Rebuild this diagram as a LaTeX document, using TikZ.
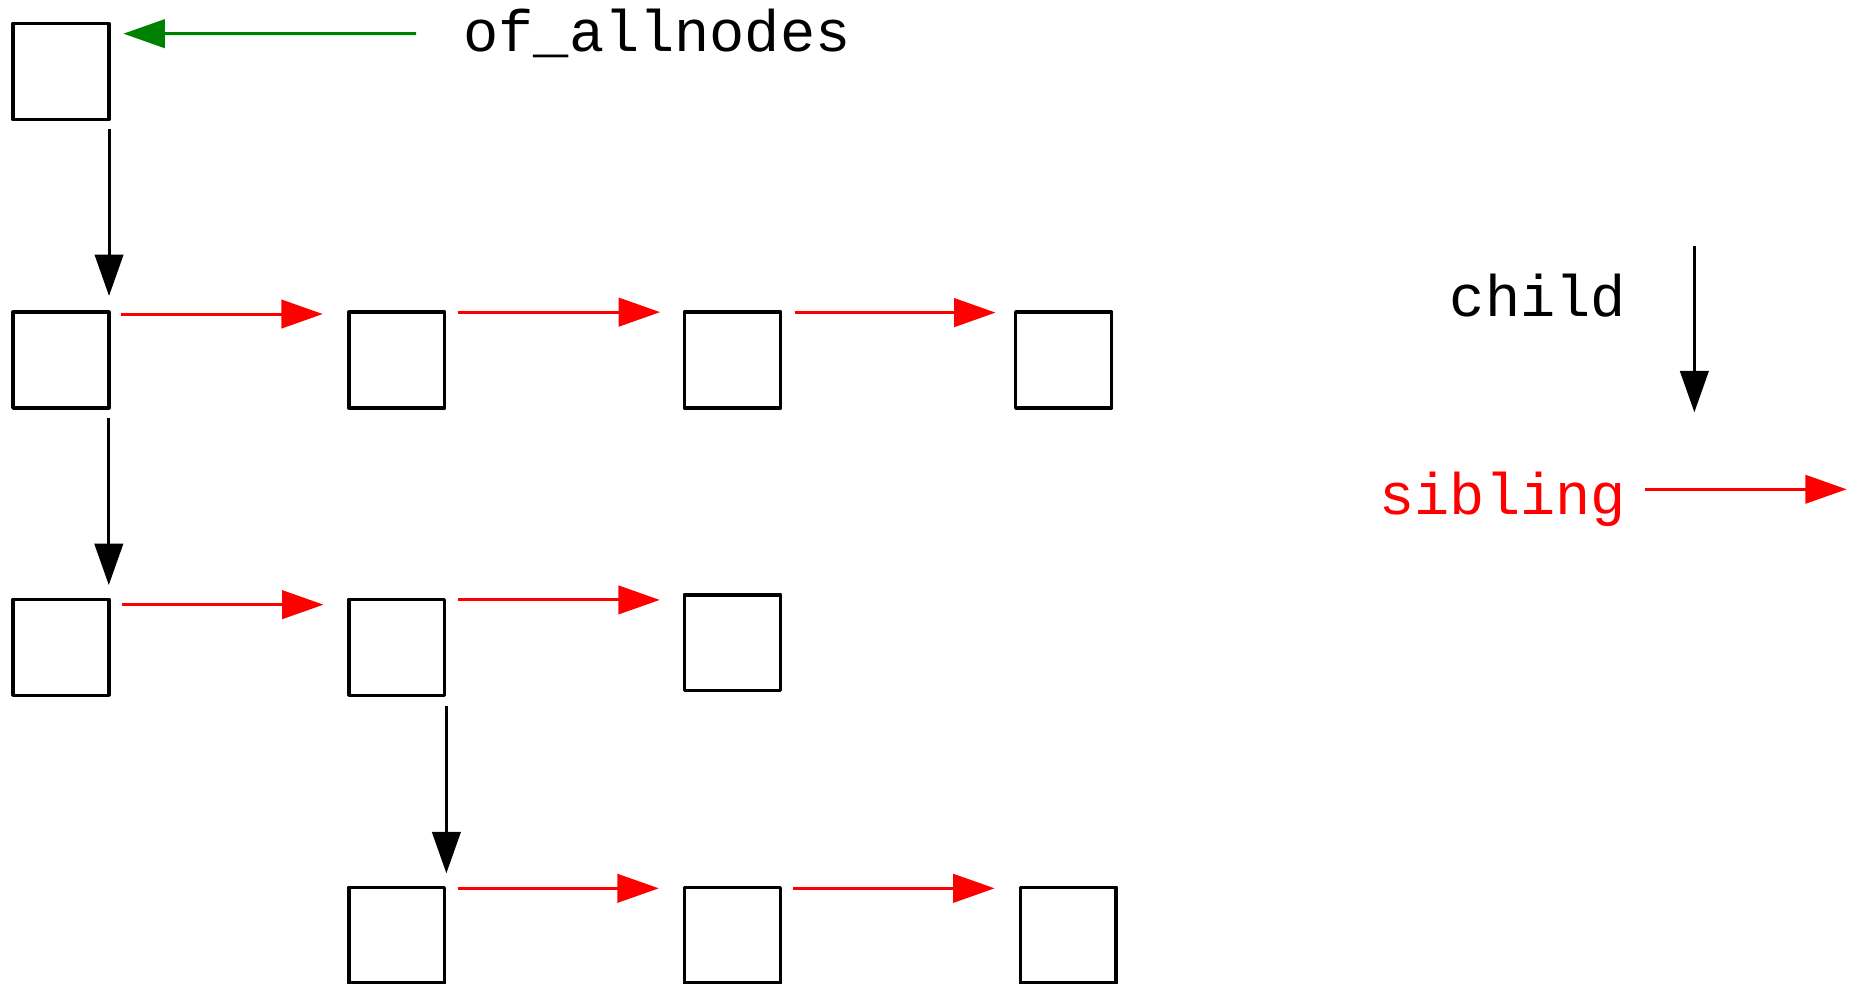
\documentclass[tikz,border=0pt]{standalone}
\usepackage{fontspec}
\setmonofont{Liberation Mono}
\usetikzlibrary{arrows.meta,calc}
\definecolor{linkgreen}{RGB}{0,128,0}
\begin{document}
\begin{tikzpicture}[x=0.01cm,y=-0.01cm,
  box/.style={draw,line width=0.85pt,line join=round,minimum width=0.81cm,
    minimum height=0.81cm,inner sep=0pt,outer sep=0pt},
  tip/.style={-{Triangle[length=3.5mm,width=2.4mm]}},
  childarrow/.style={draw=black,line width=0.72pt,tip},
  sibarrow/.style={draw=red,line width=0.72pt,tip},
  rootarrow/.style={draw=linkgreen,line width=0.72pt,tip},
  lbl/.style={font=\fontsize{14.1pt}{17pt}\selectfont\ttfamily,inner sep=0pt,outer sep=0pt}
]
\useasboundingbox (0,0) rectangle (1568,832);

% tree nodes
\node[box] (a11) at (51.5,60.5) {};
\node[box] (a21) at (51.5,304.5) {};
\node[box] (a22) at (335.5,304.5) {};
\node[box] (a23) at (619.5,304.5) {};
\node[box] (a24) at (899.5,304.5) {};
\node[box] (a31) at (51.5,547.5) {};
\node[box] (a32) at (335.5,547.5) {};
\node[box] (a33) at (619.5,543.5) {};
\node[box] (a42) at (335.5,791) {};
\node[box] (a43) at (619.5,791) {};
\node[box] (a44) at (903.5,791) {};

% labels
\node[lbl,anchor=base west] (allnodes) at (392,43.5) {of\_allnodes};
\node[lbl,anchor=base east] (childlbl) at (1375,268) {child};
\node[lbl,anchor=base east,text=red] (siblbl) at (1375,435.5) {sibling};

% pointer to the first node
\draw[rootarrow] ($(allnodes.base west)+(-40,-15)$) -- ($(a11.north east)+(12.4,8.5)$);

% child links
\draw[childarrow] ($(a11.south east)+(0.2,8.4)$) -- ($(a21.north east)+(0.2,-13.7)$);
\draw[childarrow] ($(a21.south east)+(0,8.5)$) -- ($(a31.north east)+(0,-12.2)$);
\draw[childarrow] ($(a32.south east)+(1.5,9)$) -- ($(a42.north east)+(1.5,-11.9)$);

% sibling links
\draw[sibarrow] ($(a21.north east)+(10.4,1.6)$) -- ($(a22.north west)+(-22,1.6)$);
\draw[sibarrow] ($(a22.north east)+(11.2,0)$) -- ($(a23.north west)+(-20.7,0)$);
\draw[sibarrow] ($(a23.north east)+(12,0.4)$) -- ($(a24.north west)+(-17,0.4)$);
\draw[sibarrow] ($(a31.north east)+(11,4.4)$) -- ($(a32.north west)+(-21.4,4.4)$);
\draw[sibarrow] ($(a32.north east)+(11,0.4)$) -- ($(a33.north west)+(-21,4.4)$);
\draw[sibarrow] ($(a42.north east)+(11.2,0.8)$) -- ($(a43.north west)+(-21.8,0.8)$);
\draw[sibarrow] ($(a43.north east)+(10.7,0.8)$) -- ($(a44.north west)+(-21.8,0.8)$);

% legend
\coordinate (childtop) at (1433,208);
\coordinate (childend) at (1433,348.7);
\coordinate (sibstart) at (1391,413.8);
\coordinate (sibend) at (1561.8,413.8);
\draw[childarrow] (childtop) -- (childend);
\draw[sibarrow] (sibstart) -- (sibend);
\end{tikzpicture}
\end{document}
